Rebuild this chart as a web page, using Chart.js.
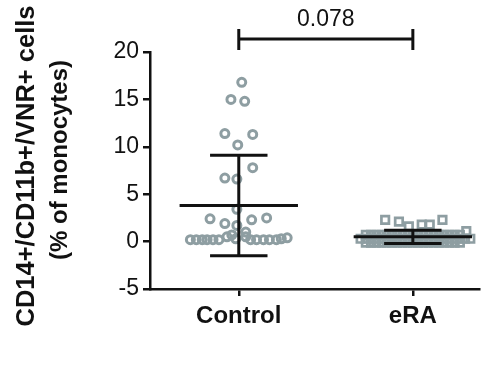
<!DOCTYPE html>
<html>
<head>
<meta charset="utf-8">
<script src="https://cdn.jsdelivr.net/npm/chart.js@4.4.1/dist/chart.umd.min.js"></script>
<style>
  body { margin: 0; background: #fff; }
</style>
</head>
<body>
<canvas id="chart" width="487" height="370"></canvas>
<script>
const categories = ["Control", "eRA"];
const yTicks = [-5, 0, 5, 10, 15, 20];
const pValue = "0.078";

// Control: values and their horizontal spread (in category widths)
const controlValues = [16.8, 15.0, 14.8, 11.4, 11.3, 10.2, 7.8, 6.7, 6.6, 3.4,
  2.4, 1.9, 1.7, 2.3, 2.5, 1.0,
  0.2, 0.2, 0.2, 0.2, 0.2, 0.2, 0.5, 0.7, 0.3, 0.5, 0.2, 0.2, 0.2, 0.2, 0.2, 0.3, 0.4];
const controlSpread = [0.017, -0.045, 0.034, -0.08, 0.08, -0.006, 0.08, -0.08, -0.011, -0.011,
  -0.165, -0.08, -0.011, 0.074, 0.16, 0.04,
  -0.278, -0.244, -0.21, -0.182, -0.148, -0.114, -0.068, -0.04, -0.017, 0.04, 0.068, 0.102, 0.142, 0.176, 0.216, 0.244, 0.278];

// eRA: a few high ones, then a dense band near zero
const eraValues = [2.3, 2.1, 1.6, 1.8, 1.8, 2.3, 1.1,
  0.7, 0.7, 0.7, 0.7, 0.7, 0.7, 0.7, 0.7, 0.7, 0.7, 0.7, 0.7, 0.7, 0.7, 0.7, 0.7, 0.7, 0.7, 0.7,
  0.3, 0.3, 0.3, 0.3, 0.3, 0.3, 0.3, 0.3, 0.3, 0.3, 0.3, 0.3, 0.3, 0.3, 0.3, 0.3, 0.3, 0.3, 0.3, 0.3, 0.3, 0.3,
  -0.1, -0.1, -0.1, -0.1, -0.1, -0.1, -0.1, -0.1, -0.1, -0.1, -0.1, -0.1, -0.1, -0.1, -0.1, -0.1, -0.1, -0.1, -0.1];
const eraSpread = [-0.159, -0.08, -0.023, 0.051, 0.097, 0.17, 0.307,
  -0.27, -0.24, -0.21, -0.18, -0.15, -0.12, -0.09, -0.06, -0.03, 0, 0.03, 0.06, 0.09, 0.12, 0.15, 0.18, 0.21, 0.24, 0.27,
  -0.30, -0.27, -0.24, -0.21, -0.18, -0.15, -0.12, -0.09, -0.06, -0.03, 0, 0.03, 0.06, 0.09, 0.12, 0.15, 0.18, 0.21, 0.24, 0.27, 0.30, 0.33,
  -0.27, -0.24, -0.21, -0.18, -0.15, -0.12, -0.09, -0.06, -0.03, 0, 0.03, 0.06, 0.09, 0.12, 0.15, 0.18, 0.21, 0.24, 0.27];

const means = [3.8, 0.5];
const sds = [5.3, 0.7];

const grey = "#8e9ea2";
const FONT = "'Liberation Sans', Arial, sans-serif";

function pts(vals, spread, pos) {
  return vals.map((v, i) => ({ x: pos + spread[i], y: v }));
}

// mean line + SD bar as one broken line
function meanSd(pos, m, s) {
  const gap = { x: pos, y: null };
  return [
    { x: pos - 0.34, y: m }, { x: pos + 0.34, y: m }, gap,
    { x: pos - 0.165, y: m + s }, { x: pos + 0.165, y: m + s }, gap,
    { x: pos, y: m + s }, { x: pos, y: m - s }, gap,
    { x: pos - 0.165, y: m - s }, { x: pos + 0.165, y: m - s }
  ];
}

const lineDatasets = categories.map((c, i) => ({
  type: "line",
  data: meanSd(i, means[i], sds[i]),
  borderColor: "#111",
  borderWidth: 3,
  pointRadius: 0,
  spanGaps: false,
  fill: false
}));

const extras = {
  id: "extras",
  afterDraw(chart) {
    const ctx = chart.ctx;
    const xs = chart.scales.x;
    const top = chart.chartArea.top;
    const x0 = xs.getPixelForValue(0), x1 = xs.getPixelForValue(1);
    ctx.save();
    ctx.strokeStyle = "#111";
    ctx.lineWidth = 3;
    ctx.beginPath();
    ctx.moveTo(x0, top - 13); ctx.lineTo(x1, top - 13);
    ctx.moveTo(x0, top - 23); ctx.lineTo(x0, top - 2);
    ctx.moveTo(x1, top - 23); ctx.lineTo(x1, top - 2);
    ctx.stroke();
    ctx.fillStyle = "#111";
    ctx.font = "23px " + FONT;
    ctx.textAlign = "center";
    ctx.textBaseline = "alphabetic";
    ctx.fillText(pValue, (x0 + x1) / 2, 26);

    // y title, two lines
    ctx.textBaseline = "middle";
    ctx.save();
    ctx.font = "bold 25.5px " + FONT;
    ctx.translate(27, 166);
    ctx.rotate(-Math.PI / 2);
    ctx.fillText("CD14+/CD11b+/VNR+ cells", 0, 0);
    ctx.restore();
    ctx.save();
    ctx.font = "bold 24px " + FONT;
    ctx.translate(60, 160);
    ctx.rotate(-Math.PI / 2);
    ctx.fillText("(% of monocytes)", 0, 0);
    ctx.restore();
    ctx.restore();
  }
};

new Chart(document.getElementById("chart"), {
  type: "scatter",
  data: {
    datasets: [
      ...lineDatasets,
      {
        data: pts(controlValues, controlSpread, 0),
        pointStyle: "circle",
        pointRadius: 4,
        borderColor: grey,
        backgroundColor: "rgba(0,0,0,0)",
        borderWidth: 3
      },
      {
        data: pts(eraValues, eraSpread, 1),
        pointStyle: "rect",
        pointRadius: 5.3,
        borderColor: grey,
        backgroundColor: "rgba(0,0,0,0)",
        borderWidth: 2.7
      }
    ]
  },
  options: {
    responsive: false,
    animation: false,
    events: [],
    layout: { padding: { top: 52, right: 4, left: 0, bottom: 0 } },
    plugins: { legend: { display: false }, tooltip: { enabled: false } },
    scales: {
      x: {
        type: "linear",
        min: -0.51,
        max: 1.38,
        afterBuildTicks: (s) => { s.ticks = categories.map((c, i) => ({ value: i })); },
        afterFit: (s) => { s.height = 81; },
        ticks: {
          callback: (v) => categories[v],
          color: "#111",
          font: { family: FONT, size: 24, weight: "bold" },
          padding: 6,
          maxRotation: 0
        },
        grid: { drawOnChartArea: false, drawTicks: true, tickLength: 7, color: "#111", lineWidth: 2.5 },
        border: { display: true, color: "#111", width: 2.5 }
      },
      y: {
        min: -5,
        max: 20,
        afterBuildTicks: (s) => { s.ticks = yTicks.map((v) => ({ value: v })); },
        afterFit: (s) => { s.width = 150; },
        ticks: {
          color: "#111",
          font: { family: FONT, size: 23 },
          padding: 4
        },
        grid: { drawOnChartArea: false, drawTicks: true, tickLength: 7, color: "#111", lineWidth: 2.5 },
        border: { display: true, color: "#111", width: 2.5 }
      }
    }
  },
  plugins: [extras]
});
</script>
</body>
</html>
